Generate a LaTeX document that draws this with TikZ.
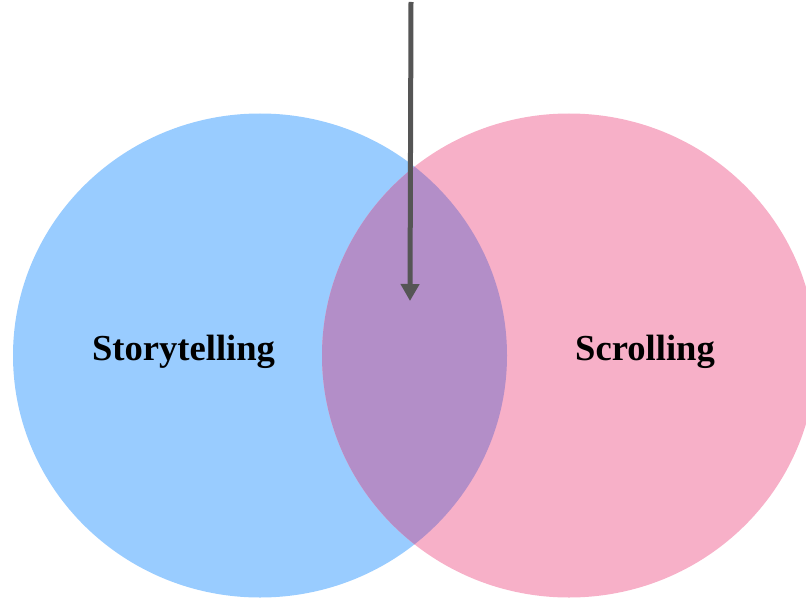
\documentclass[tikz,border=0pt]{standalone}
\usepackage{fontspec}
\setmainfont{Liberation Serif}
\usetikzlibrary{arrows.meta}
\definecolor{cblue}{RGB}{153,204,255}
\definecolor{cpink}{RGB}{247,176,200}
\definecolor{cpurple}{RGB}{179,142,200}
\definecolor{cgray}{RGB}{85,85,85}
\tikzset{
  label text/.style={font=\bfseries\fontsize{36.6}{40}\selectfont, text=black, anchor=base, inner sep=0pt},
  pointer/.style={draw=cgray, line width=5pt, -{Triangle[width=18pt,length=17pt]}}
}
\begin{document}
\begin{tikzpicture}[x=1pt,y=-1pt]
\useasboundingbox (0,0) rectangle (806,599);
% circles
\fill[cblue] (260,355.5) ellipse [x radius=247, y radius=242];
\fill[cpink] (569,355.5) ellipse [x radius=247, y radius=242];
\begin{scope}
  \clip (260,355.5) ellipse [x radius=247, y radius=242];
  \fill[cpurple] (569,355.5) ellipse [x radius=247, y radius=242];
\end{scope}
% labels
\node[label text] (story) at (183.5,360) {Storytelling};
\node[label text] (scroll) at (645,360) {Scrolling};
% arrow
\coordinate (from) at (411,2);
\coordinate (to) at (410,301);
\draw[pointer] (from) -- (to);
\end{tikzpicture}
\end{document}
